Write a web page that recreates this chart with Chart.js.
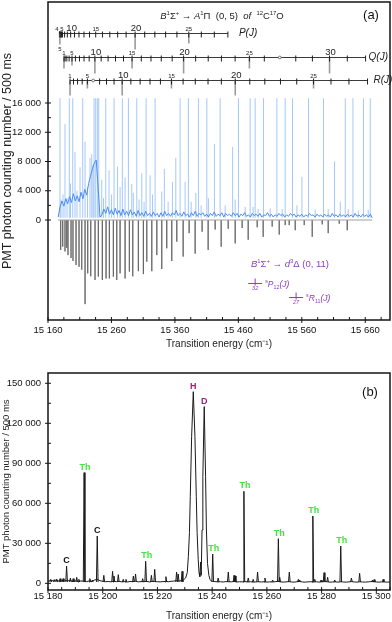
<!DOCTYPE html>
<html><head><meta charset="utf-8">
<script src="https://cdn.jsdelivr.net/npm/chart.js@4.4.1/dist/chart.umd.min.js"></script>
<style>
html,body{margin:0;padding:0;background:#fff;width:392px;height:622px;overflow:hidden;}
canvas{position:absolute;left:0;}
#ca{top:0;} #cb{top:352px;}
</style></head>
<body>
<canvas id="ca" width="392" height="352"></canvas>
<canvas id="cb" width="392" height="270"></canvas>
<script>
// ---------------- DATA : panel (a) ----------------
const aBaseStart = 15176, aBaseStep = 3;
const aBaseline = [400,1800,2600,1900,2900,2200,3200,2400,3600,2600,3300,2500,3800,2900,4200,3400,5000,6000,7000,7800,
 8200,4500,400,700,1500,900,1800,800,1400,700,1600,800,1300,600,1500,700,1200,600,1400,700,
 1100,500,1300,600,1000,500,1200,600,900,500,1100,600,900,400,1000,500,1200,600,900,500,
 1000,700,1300,600,900,500,1100,600,800,400,1000,600,1200,500,900,700,1000,500,800,400,
 900,600,1100,500,800,600,1000,400,900,600,800,500,1000,600,900,400,800,600,1000,500,
 700,400,900,600,800,500,900,400,700,600,1000,500,800,400,700,500,900,600,800,400,
 700,500,900,600,800,400,700,500,800,400,700,500,900,600,700,400,800,500,700,400,
 800,500,700,400,900,500,700,400,800,500,700,400,800,500,700,400,900,500,700,400,
 800,500,700,400,800,300];
const obsPos = [15178.9,15180.5,15183.7,15186.8,15190.0,15193.6,15195.5,15199.0,15202.6,15205.7,15210.5,15214.7,15218.4,15222.3,
 15226.2,15228.9,15231.0,15232.6,15235.2,15237.8,15240.0,15244.7,15247.5,15251.0,15256.2,15260.2,15264.1,15269.6,15273.6,
 15277.2,15281.5,15286.7,15292.0,15294.5,15299.9,15303.5,15307.8,15311.4,15314.6,15320.9,15324.8,15328.8,15339.3,15343.4,
 15349.3,15356.1,15361.4,15368.2,15376.1,15381.3,15385.6,15393.0,15397.1,15401.3,15410.3,15412.8,15422.3,15431.3,15439.2,
 15451.0,15455.0,15460.2,15470.7,15478.6,15483.3,15486.5,15491.2,15499.6,15510.2,15520.7,15529.1,15533.8,15545.3,15552.3,
 15560.2,15570.6,15581.1,15594.2,15601.6,15611.6,15620.6,15628.5,15633.2,15640.6,15649.0,15657.3,15664.7,15667.9];
const obsInt = [16650,2800,3500,13100,3000,16650,5000,16650,9300,4000,7200,16650,10700,4500,
 8500,9000,7500,16650,16650,16650,16650,5500,3000,16650,6800,3500,16650,7300,4500,
 16650,5800,16650,4900,3700,16650,2800,6400,2500,16650,6100,3500,16650,3900,7000,
 2500,5200,8500,16650,5200,16650,2500,3700,16650,2000,16650,3000,10400,16650,2000,
 10000,2800,16650,1800,16650,1800,16650,1500,16650,1600,16650,1500,16650,16650,2000,
 5900,16650,1400,16650,1500,8000,2500,16650,1500,16650,1300,16650,1400,16650];
const simPos = [15180.0,15183.2,15186.8,15189.5,15191.5,15196.3,15199.4,15204.2,15208.9,15213.2,15218.4,15222.6,15227.4,15234.1,
 15239.3,15245.6,15251.5,15256.7,15263.0,15268.4,15273.6,15281.5,15288.2,15293.6,15302.4,15310.3,15315.7,15323.6,15331.5,
 15339.3,15347.2,15355.1,15363.0,15373.0,15382.4,15391.9,15402.9,15412.4,15423.4,15432.9,15444.0,15455.0,15466.0,15475.5,
 15489.7,15499.1,15513.3,15524.4,15533.8,15540.1,15549.6,15563.8,15576.4,15592.2,15601.6,15619.0,15631.6];
const simInt = [-4100,-3650,-4300,-3800,-4800,-5200,-5600,-6150,-6400,-6800,-11500,-7300,-7700,-8200,
 -7750,-8200,-8000,-8000,-7750,-8200,-7300,-8000,-7060,-7700,-7000,-7400,-5700,-7000,-4800,
 -6700,-3870,-5600,-2960,-5000,-1800,-4600,-1600,-4100,-1300,-3650,-1200,-3200,-1100,-2700,
 -1000,-2300,-900,-2000,-700,-700,-1400,-700,-2300,-600,-1800,-500,-1400];
// rotational assignment ladders (J = 1, 2, 3 ...)
const pBranch = [15181.4,15179.4,15178.3,15178.0,15178.7,15180.3,15182.8,15186.2,15190.5,15195.7,15201.8,15208.8,15216.7,15225.5,
 15235.2,15245.8,15257.4,15269.8,15283.1,15297.3,15312.4,15328.4,15345.4,15363.2,15381.9,15401.6,15422.1,15443.5];
const qBranch = [15185.2,15187.0,15189.7,15193.3,15197.8,15203.2,15209.6,15216.8,15224.9,15233.9,15243.8,15254.7,15266.4,15279.0,
 15292.5,15307.0,15322.3,15338.5,15355.7,15373.7,15392.7,15412.5,15433.3,15454.9,15477.4,15500.9,15525.3,15550.5,15576.7,
 15603.7,15631.7,15660.5];
const rBranch = [15194.7,15200.2,15206.6,15213.9,15222.1,15231.2,15241.3,15252.2,15264.1,15276.9,15290.6,15305.2,15320.8,15337.2,
 15354.6,15372.9,15392.1,15412.2,15433.2,15455.1,15478.0,15501.7,15526.4,15552.0,15578.5,15606.0,15634.3,15663.6];
const ladderLevels = [25570, 22290, 19150];
const markPos = [15486.5, 15551.0];
const markLevel = [-8615, -10530];
const markJ = ['32', '27'];

// ---------------- DATA : panel (b) ----------------
const bBaseStart = 15180, bBaseStep = 1;
const bBaseline = [1500,2200,1800,2500,1600,2000,2500,1800,2200,1500,1900,1400,1800,1600,1200,1800,1300,2500,3000,2000,
 1500,1200,1400,1100,1600,1200,1500,1100,1300,1000,1400,1200,1600,1100,1300,1200,1500,1000,1400,1300,
 1200,1100,1300,1400,1200,1500,1700,2000,1800,2200,2500,2500,2500,2500,2500,2500,2500,2500,2500,2500,
 1500,1300,1100,1200,1000,1300,1200,1100,1400,1000,1200,1100,1300,1000,1200,900,1100,1200,1000,1200,
 900,1100,1000,1200,1500,1100,900,1100,1300,1000,900,1200,1400,1000,900,1100,1200,1000,1200,900,
 1100,1300,1200,900,1000,1100,900,1200,1000,900,1100,1300,1000,900,1200,1000,900,1100,1300,1200,
 1000,900,1100,1000,900,1000];
const hdProfX = [15229.5,15230.3,15230.9,15231.3,15231.7,15232.0,15232.5,15233.1,15233.7,15234.2,15234.5,15234.9,15235.2,
 15235.5,15235.8,15236.0,15236.3,15236.6,15237.1,15237.6,15237.9,15238.3,15238.8,15239.2,15239.5];
const hdProfY = [2500,4000,8000,20000,38000,65000,110000,143700,110000,65000,38000,18000,8000,
 5000,16000,6000,40000,80000,132500,80000,40000,15000,6000,3000,2000];
const bLinePos = [15181.0,15182.3,15183.2,15184.4,15185.5,15186.8,15188.2,15189.2,15190.5,15191.3,15193.2,15195.3,15196.2,
 15198.0,15200.4,15203.6,15204.1,15205.7,15207.5,15208.5,15211.2,15212.0,15214.6,15215.7,15217.8,15219.0,15223.1,
 15227.0,15227.6,15229.0,15240.2,15242.2,15245.9,15248.0,15248.4,15251.6,15253.2,15255.0,15256.6,15259.3,15262.1,
 15264.2,15264.7,15268.2,15271.5,15272.0,15276.8,15277.5,15279.8,15280.9,15282.2,15284.8,15287.0,15290.9,15293.9,
 15298.6,15299.2,15302.5];
const bLineInt = [3000,2800,3200,3500,3500,13000,4000,3500,4500,3000,83000,3500,2500,
 35500,6000,9000,5500,6500,3000,3000,5500,7000,3500,16500,6000,10500,5000,
 8500,7000,9000,22000,4000,8500,6000,5500,69000,4000,3000,8500,4000,2500,
 33500,4500,8500,3000,2500,50500,3000,2500,8000,4500,2500,28000,4000,7500,
 2500,2800,3000];
const bLabelPos = [15186.8,15193.2,15198.0,15215.7,15233.1,15237.1,15240.2,15251.6,15264.2,15276.8,15287.0];
const bLabelVal = [13000,83000,35500,16500,143700,132500,22000,69000,33500,50500,28000];
const bLabelTxt = ['C','Th','C','Th','H','D','Th','Th','Th','Th','Th'];

// ---------------- helpers ----------------
const FONT = "'Liberation Sans', Arial, Helvetica, sans-serif";
Chart.defaults.font.family = FONT;
Chart.defaults.color = '#111';
const fmt = v => { const s = String(Math.round(Math.abs(v))).replace(/\B(?=(\d{3})+(?!\d))/g, ' '); return (v < 0 ? '-' : '') + s; };
function seq(a, b, st) { const r = []; for (let v = a; v <= b + 1e-9; v += st) r.push({value: v}); return r; }
function line(ctx, x0, y0, x1, y1) { ctx.beginPath(); ctx.moveTo(x0, y0); ctx.lineTo(x1, y1); ctx.stroke(); }
function fontFor(st, size) {
  const it = st.includes('i'), sm = st.includes('s') || st.includes('b'), bd = st.includes('B');
  return (it ? 'italic ' : '') + (bd ? 'bold ' : '') + (sm ? size * 0.62 : size).toFixed(1) + 'px ' + FONT;
}
function drawRich(ctx, parts, x, y, size, color, align) {
  let total = 0;
  const items = parts.map(([t, st]) => { const f = fontFor(st, size); ctx.font = f; const w = ctx.measureText(t).width; total += w; return {t, st, f, w}; });
  let cx = align === 'center' ? x - total / 2 : x;
  ctx.fillStyle = color; ctx.textBaseline = 'alphabetic'; ctx.textAlign = 'left';
  items.forEach(it => {
    ctx.font = it.f;
    const dy = it.st.includes('s') ? -size * 0.42 : (it.st.includes('b') ? size * 0.25 : 0);
    ctx.fillText(it.t, cx, y + dy); cx += it.w;
  });
}
function drawFrameAndTicks(chart, xMajor, yMajor) {
  const {ctx, chartArea: a, scales: {x, y}} = chart;
  ctx.save();
  ctx.strokeStyle = '#151515'; ctx.lineWidth = 1;
  x.ticks.forEach(t => {
    const px = x.getPixelForValue(t.value);
    if (xMajor(t.value)) line(ctx, px, a.bottom - 3, px, a.bottom + 3); else line(ctx, px, a.bottom - 3, px, a.bottom);
  });
  y.ticks.forEach(t => {
    const py = y.getPixelForValue(t.value);
    if (yMajor(t.value)) line(ctx, a.left - 3, py, a.left + 3, py); else line(ctx, a.left, py, a.left + 3, py);
  });
  ctx.lineWidth = 1.5;
  ctx.strokeRect(a.left, a.top, a.right - a.left, a.bottom - a.top);
  ctx.restore();
}
const fitX = h => s => { s.height = h; s.paddingLeft = 0; s.paddingRight = 0; s.paddingTop = 0; s.paddingBottom = 0; };
const fitY = w => s => { s.width = w; s.paddingLeft = 0; s.paddingRight = 0; s.paddingTop = 0; s.paddingBottom = 0; };

// ---------------- panel (a) ----------------
const aObsBase = aBaseline.map((v, i) => ({x: aBaseStart + i * aBaseStep, y: v}));
const aObsSticks = [];
obsPos.forEach((p, i) => { aObsSticks.push({x: p, y: 300}, {x: p, y: obsInt[i]}, {x: p, y: null}); });
const aSimSticks = [];
simPos.forEach((p, i) => { aSimSticks.push({x: p, y: 0}, {x: p, y: simInt[i]}, {x: p, y: null}); });
const aZero = [{x: aBaseStart, y: 0}, {x: aBaseStart + (aBaseline.length - 1) * aBaseStep, y: 0}];

const ladderStyle = [
  {pos: pBranch, longT: {5: 11, 20: 16, 25: 10}, big: {10: '10', 20: '20'}, small: {4: '4 5', 15: '15', 25: '25'}, below: {5: '5'}, missing: [], name: 'P', gap: 11},
  {pos: qBranch, longT: {1: 11, 5: 8, 10: 16, 15: 11, 20: 16, 25: 11, 30: 16}, big: {10: '10', 20: '20', 30: '30'}, small: {1: '1', 5: '5', 15: '15', 25: '25'}, below: {}, missing: [27], name: 'Q', gap: 3},
  {pos: rBranch, longT: {1: 15, 5: 8, 10: 15, 15: 8, 20: 15, 25: 8}, big: {10: '10', 20: '20'}, small: {1: '1', 5: '5', 15: '15', 25: '25'}, below: {}, missing: [6], name: 'R', gap: 6}
];

const annotA = {
  id: 'annotA',
  afterDatasetsDraw(chart) {
    const {ctx, chartArea: a, scales: {x, y}} = chart;
    ctx.save();
    ladderStyle.forEach((L, k) => {
      const yy = Math.round(y.getPixelForValue(ladderLevels[k])) + 0.5;
      const px = L.pos.map(v => x.getPixelForValue(v));
      const x0 = Math.min(...px), x1 = Math.max(...px);
      ctx.strokeStyle = '#3a3a3a'; ctx.lineWidth = 1;
      line(ctx, x0, yy, x1, yy);
      px.forEach((xx, i) => {
        const J = i + 1;
        if (L.missing.includes(J)) {
          ctx.strokeStyle = '#555'; ctx.lineWidth = 0.8;
          ctx.beginPath(); ctx.arc(xx, yy, 1.4, 0, Math.PI * 2); ctx.fillStyle = '#fff'; ctx.fill(); ctx.stroke();
          return;
        }
        if (L.longT[J]) { ctx.strokeStyle = '#9c9c9c'; ctx.lineWidth = 1.6; line(ctx, xx, yy, xx, yy + L.longT[J]); }
        ctx.strokeStyle = '#1e1e1e'; ctx.lineWidth = 1;
        line(ctx, xx, yy - 2, xx, yy + 4);
      });
      ctx.fillStyle = '#222'; ctx.textAlign = 'center'; ctx.textBaseline = 'alphabetic';
      Object.keys(L.big).forEach(J => { ctx.font = '9.5px ' + FONT; ctx.fillText(L.big[J], px[J - 1] + 1, yy - 3); });
      Object.keys(L.small).forEach(J => { ctx.font = '6px ' + FONT; ctx.fillText(L.small[J], px[J - 1], yy - 3); });
      Object.keys(L.below).forEach(J => { ctx.font = '6px ' + FONT; ctx.fillText(L.below[J], px[J - 1], yy + (L.longT[J] || 6) + 6); });
      ctx.font = 'italic 10px ' + FONT; ctx.textAlign = 'left'; ctx.textBaseline = 'middle';
      ctx.fillText(L.name + '(J)', x1 + L.gap, yy);
    });
    drawRich(ctx, [['B', 'i'], ['1', 's'], ['Σ', ''], ['+', 's'], [' → ', ''], ['A', 'i'], ['1', 's'], ['Π', ''], ['  (0, 5)  ', ''], ['of', 'i'], ['  ', ''], ['12', 's'], ['C', ''], ['17', 's'], ['O', '']],
      222, 18.5, 9.5, '#222', 'center');
    ctx.font = '13px ' + FONT; ctx.fillStyle = '#111'; ctx.textAlign = 'center'; ctx.textBaseline = 'middle';
    ctx.fillText('(a)', 371, 15);
    const purple = '#8a3fc6';
    drawRich(ctx, [['B', 'i'], ['1', 's'], ['Σ', ''], ['+', 's'], [' → ', ''], ['d', 'i'], ['3', 's'], ['Δ', ''], [' (0, 11)', '']], 290, 266.5, 9.5, purple, 'center');
    const branches = [[['s', 's'], ['P', 'i'], ['12', 'b'], ['(J)', 'i']], [['s', 's'], ['R', 'i'], ['11', 'b'], ['(J)', 'i']]];
    markPos.forEach((p, i) => {
      const mx = x.getPixelForValue(p), my = Math.round(y.getPixelForValue(markLevel[i])) + 0.5;
      ctx.strokeStyle = purple; ctx.lineWidth = 1;
      line(ctx, mx - 7, my, mx + 7, my);
      line(ctx, mx, my - 5, mx, my + 2);
      ctx.font = 'italic 5.5px ' + FONT; ctx.fillStyle = purple; ctx.textAlign = 'center'; ctx.textBaseline = 'top';
      ctx.fillText(markJ[i], mx, my + 2.5);
      drawRich(ctx, branches[i], mx + 10, my + 3, 8.5, purple, 'left');
    });
    ctx.restore();
    drawFrameAndTicks(chart, v => Math.abs((v - 15160) % 100) < 1e-6, v => v % 4000 === 0);
  }
};

new Chart(document.getElementById('ca'), {
  type: 'line',
  data: {datasets: [
    {data: aObsBase, borderColor: '#4a8cf0', borderWidth: 1, pointRadius: 0, tension: 0},
    {data: aObsSticks, borderColor: 'rgba(90,155,245,0.55)', borderWidth: 1, pointRadius: 0, spanGaps: false, tension: 0},
    {data: aZero, borderColor: '#a0a0a0', borderWidth: 1, pointRadius: 0},
    {data: aSimSticks, borderColor: 'rgba(80,80,80,0.55)', borderWidth: 1, pointRadius: 0, spanGaps: false, tension: 0}
  ]},
  options: {
    responsive: false, animation: false,
    layout: {padding: {top: 2, right: 2, left: 0, bottom: 0}},
    plugins: {legend: {display: false}, tooltip: {enabled: false}},
    scales: {
      x: {type: 'linear', min: 15160, max: 15699,
        afterBuildTicks: s => { s.ticks = seq(15160, 15685, 25); },
        afterFit: fitX(32),
        grid: {display: false, drawTicks: false}, border: {display: false},
        ticks: {autoSkip: false, maxRotation: 0, padding: 5, font: {size: 9.5}, color: '#111',
          callback: v => (Math.abs((v - 15160) % 100) < 1e-6 ? fmt(v) : '')},
        title: {display: true, text: 'Transition energy (cm⁻¹)', font: {size: 10}, color: '#222', padding: {top: 0, bottom: 2}}},
      y: {type: 'linear', min: -13675, max: 29812,
        afterBuildTicks: s => { s.ticks = seq(0, 16000, 2000); },
        afterFit: fitY(48),
        grid: {display: false, drawTicks: false}, border: {display: false},
        ticks: {autoSkip: false, padding: 7, font: {size: 9.5}, color: '#111',
          callback: v => (v % 4000 === 0 ? fmt(v) : '')},
        title: {display: true, text: 'PMT photon counting number / 500 ms', font: {size: 12.5}, color: '#222', padding: {top: 0, bottom: 0}}}
    }
  },
  plugins: [annotA]
});

// ---------------- panel (b) ----------------
const hdMin = hdProfX[0], hdMax = hdProfX[hdProfX.length - 1];
const bMain = [];
bBaseline.forEach((v, i) => {
  const xv = bBaseStart + i * bBaseStep;
  if (xv < hdMin) bMain.push({x: xv, y: v});
});
hdProfX.forEach((xv, i) => bMain.push({x: xv, y: hdProfY[i]}));
bBaseline.forEach((v, i) => {
  const xv = bBaseStart + i * bBaseStep;
  if (xv > hdMax) bMain.push({x: xv, y: v});
});
const bSticks = [];
bLinePos.forEach((p, i) => { bSticks.push({x: p - 0.3, y: 1000}, {x: p, y: bLineInt[i]}, {x: p + 0.3, y: 1000}, {x: p + 0.3, y: null}); });

const annotB = {
  id: 'annotB',
  afterDatasetsDraw(chart) {
    const {ctx, scales: {x, y}} = chart;
    ctx.save();
    ctx.font = 'bold 9px ' + FONT; ctx.textAlign = 'center'; ctx.textBaseline = 'alphabetic';
    bLabelPos.forEach((p, i) => {
      const t = bLabelTxt[i];
      ctx.fillStyle = t === 'Th' ? '#3ee63e' : (t === 'C' ? '#111' : '#a3207a');
      ctx.fillText(t, x.getPixelForValue(p) + (t === 'Th' ? 1 : 0), y.getPixelForValue(bLabelVal[i]) - 3);
    });
    ctx.font = '13px ' + FONT; ctx.fillStyle = '#111'; ctx.textAlign = 'center'; ctx.textBaseline = 'middle';
    ctx.fillText('(b)', 370, 392 - 352);
    ctx.restore();
    drawFrameAndTicks(chart, v => Math.abs((v - 15180) % 20) < 1e-6, v => v % 30000 === 0);
  }
};

new Chart(document.getElementById('cb'), {
  type: 'line',
  data: {datasets: [
    {data: bSticks, borderColor: '#1a1a1a', borderWidth: 1, pointRadius: 0, spanGaps: false, tension: 0},
    {data: bMain, borderColor: '#1a1a1a', borderWidth: 1, pointRadius: 0, tension: 0}
  ]},
  options: {
    responsive: false, animation: false,
    layout: {padding: {top: 21, right: 2, left: 0, bottom: 0}},
    plugins: {legend: {display: false}, tooltip: {enabled: false}},
    scales: {
      x: {type: 'linear', min: 15180, max: 15305,
        afterBuildTicks: s => { s.ticks = seq(15180, 15305, 5); },
        afterFit: fitX(32),
        grid: {display: false, drawTicks: false}, border: {display: false},
        ticks: {autoSkip: false, maxRotation: 0, padding: 1, font: {size: 9.5}, color: '#111',
          callback: v => (Math.abs((v - 15180) % 20) < 1e-6 ? fmt(v) : '')},
        title: {display: true, text: 'Transition energy (cm⁻¹)', font: {size: 10}, color: '#222', padding: {top: 0, bottom: 0}}},
      y: {type: 'linear', min: -5000, max: 157700,
        afterBuildTicks: s => { s.ticks = seq(0, 150000, 15000); },
        afterFit: fitY(48),
        grid: {display: false, drawTicks: false}, border: {display: false},
        ticks: {autoSkip: false, padding: 7, font: {size: 9.5}, color: '#111',
          callback: v => (v % 30000 === 0 ? fmt(v) : '')},
        title: {display: true, text: 'PMT photon counting number / 500 ms', font: {size: 9.5}, color: '#222', padding: {top: 1, bottom: 0}}}
    }
  },
  plugins: [annotB]
});
</script>
</body></html>
